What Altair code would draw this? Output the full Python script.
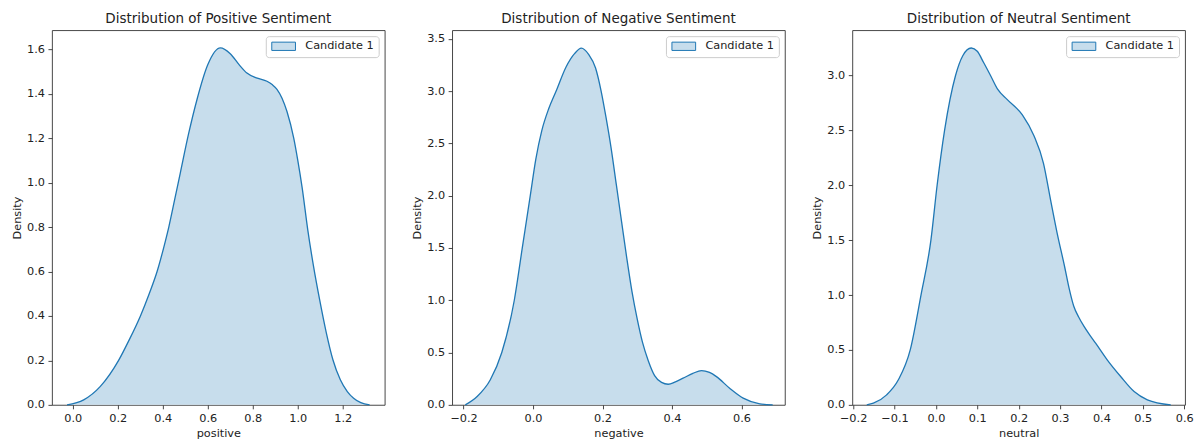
import altair as alt
import pandas as pd

series_name = "Candidate 1"

# Positive sentiment density curve
pos_x = [-0.025, 0.049, 0.123, 0.204, 0.25, 0.301, 0.34, 0.375, 0.405, 0.427,
         0.453, 0.478, 0.515, 0.552, 0.6, 0.656, 0.7, 0.74, 0.774, 0.82,
         0.863, 0.8875, 0.9075, 0.93, 0.952, 0.982, 1.0, 1.019, 1.044, 1.07,
         1.097, 1.127, 1.156, 1.189, 1.22, 1.248, 1.28, 1.319]
pos_y = [0.0, 0.0225, 0.083, 0.2, 0.29, 0.4, 0.5, 0.6, 0.71, 0.8,
         0.923, 1.043, 1.22, 1.373, 1.53, 1.606, 1.58, 1.53, 1.493, 1.47,
         1.456, 1.44, 1.42, 1.38, 1.32, 1.2, 1.1, 0.98, 0.79, 0.623,
         0.473, 0.323, 0.203, 0.113, 0.06, 0.03, 0.01, 0.0]

# Negative sentiment density curve
neg_x = [-0.195, -0.161, -0.123, -0.09, -0.054, -0.031, -0.008, 0.008, 0.025, 0.045,
         0.0665, 0.095, 0.12, 0.139, 0.16, 0.18, 0.196, 0.21, 0.225, 0.24,
         0.255, 0.27, 0.285, 0.3, 0.315, 0.332, 0.35, 0.37, 0.389, 0.41,
         0.432, 0.46, 0.485, 0.508, 0.528, 0.566, 0.605, 0.653, 0.69]
neg_y = [0.0, 0.08, 0.24, 0.5, 1.0, 1.5, 2.0, 2.35, 2.62, 2.83,
         3.0, 3.23, 3.36, 3.41, 3.35, 3.22, 3.0, 2.75, 2.45, 2.1,
         1.75, 1.4, 1.08, 0.82, 0.6, 0.42, 0.28, 0.215, 0.197, 0.22,
         0.255, 0.3, 0.328, 0.31, 0.27, 0.159, 0.064, 0.01, 0.0]

# Neutral sentiment density curve
neu_x = [-0.167, -0.151, -0.119, -0.0906, -0.062, -0.036, -0.012, 0.003, 0.021, 0.0475,
         0.065, 0.0855, 0.1, 0.115, 0.132, 0.15, 0.1726, 0.209, 0.237, 0.26,
         0.277, 0.293, 0.311, 0.322, 0.333, 0.345, 0.358, 0.372, 0.386, 0.414,
         0.4465, 0.479, 0.511, 0.5675]
neu_y = [0.0, 0.015, 0.091, 0.228, 0.5, 1.0, 1.5, 2.0, 2.5, 3.0,
         3.18, 3.25, 3.22, 3.12, 3.0, 2.87, 2.78, 2.64, 2.45, 2.2,
         1.87, 1.565, 1.26, 1.06, 0.9, 0.8, 0.714, 0.635, 0.562, 0.41,
         0.258, 0.121, 0.046, 0.0]

titles = ["Distribution of Positive Sentiment",
          "Distribution of Negative Sentiment",
          "Distribution of Neutral Sentiment"]
x_titles = ["positive", "negative", "neutral"]
y_title = "Density"

x_domains = [[-0.092, 1.386], [-0.233, 0.725], [-0.202, 0.602]]
y_domains = [[0, 1.686], [0, 3.582], [0, 3.4125]]
x_ticks = [[0.0, 0.2, 0.4, 0.6, 0.8, 1.0, 1.2],
           [-0.2, 0.0, 0.2, 0.4, 0.6],
           [-0.2, -0.1, 0.0, 0.1, 0.2, 0.3, 0.4, 0.5, 0.6]]
y_ticks = [[0.0, 0.2, 0.4, 0.6, 0.8, 1.0, 1.2, 1.4, 1.6],
           [0.0, 0.5, 1.0, 1.5, 2.0, 2.5, 3.0, 3.5],
           [0.0, 0.5, 1.0, 1.5, 2.0, 2.5, 3.0]]

FILL = "#c7ddec"
LINE = "#1f77b4"
FONT = "DejaVu Sans"


def panel(xs, ys, title, xt, xd, yd, xtv, ytv):
    df = pd.DataFrame({"x": xs, "y": ys, "series": series_name})
    base = alt.Chart(df)
    xenc = alt.X("x:Q", title=xt,
                 scale=alt.Scale(domain=xd, nice=False, zero=False),
                 axis=alt.Axis(values=xtv, format=".1f", labelFlush=False,
                               labelOverlap=False))
    yenc = alt.Y("y:Q", title=y_title,
                 scale=alt.Scale(domain=yd, nice=False, zero=False),
                 axis=alt.Axis(values=ytv, format=".1f", labelFlush=False,
                               labelOverlap=False))
    area = base.mark_area(interpolate="monotone", opacity=1).encode(
        x=xenc, y=yenc,
        fill=alt.Fill("series:N",
                      scale=alt.Scale(domain=[series_name], range=[FILL]),
                      legend=alt.Legend(
                          title=None, orient="top-right", offset=6,
                          symbolType="M-1,-1H4.71V1H-1Z", symbolSize=69,
                          symbolStrokeColor=LINE, symbolStrokeWidth=1,
                          symbolOpacity=1,
                          labelFont=FONT, labelFontSize=11.3, labelColor="#222222",
                          labelOffset=23.7, padding=4.5,
                          strokeColor="#cccccc", fillColor="white",
                          cornerRadius=3)))
    line = base.mark_line(interpolate="monotone", color=LINE,
                          strokeWidth=1.3).encode(x=xenc, y=yenc)
    return (area + line).properties(
        width=333, height=375,
        title=alt.TitleParams(title, anchor="middle"))


panels = []
for i, (xs, ys) in enumerate([(pos_x, pos_y), (neg_x, neg_y), (neu_x, neu_y)]):
    panels.append(panel(xs, ys, titles[i], x_titles[i], x_domains[i],
                        y_domains[i], x_ticks[i], y_ticks[i]))

chart = alt.hconcat(*panels, spacing=67.5, bounds="flush").resolve_scale(
    fill="independent", x="independent", y="independent"
).resolve_legend(fill="independent").properties(
    padding={"left": 3, "top": 3, "right": 0, "bottom": 0}
).configure_view(
    stroke="#333333", strokeWidth=0.9
).configure_axis(
    domain=False, grid=False, tickColor="#333333", tickSize=4, tickWidth=0.9,
    labelFont=FONT, labelFontSize=11.3, labelColor="#222222", labelPadding=3.5,
    titleFont=FONT, titleFontSize=11.3, titleFontWeight="normal",
    titleColor="#222222", titlePadding=4
).configure_title(
    font=FONT, fontSize=13.5, fontWeight="normal", color="#222222", offset=5
)

chart.save("out.html", embed_options={"renderer": "svg", "actions": False})
